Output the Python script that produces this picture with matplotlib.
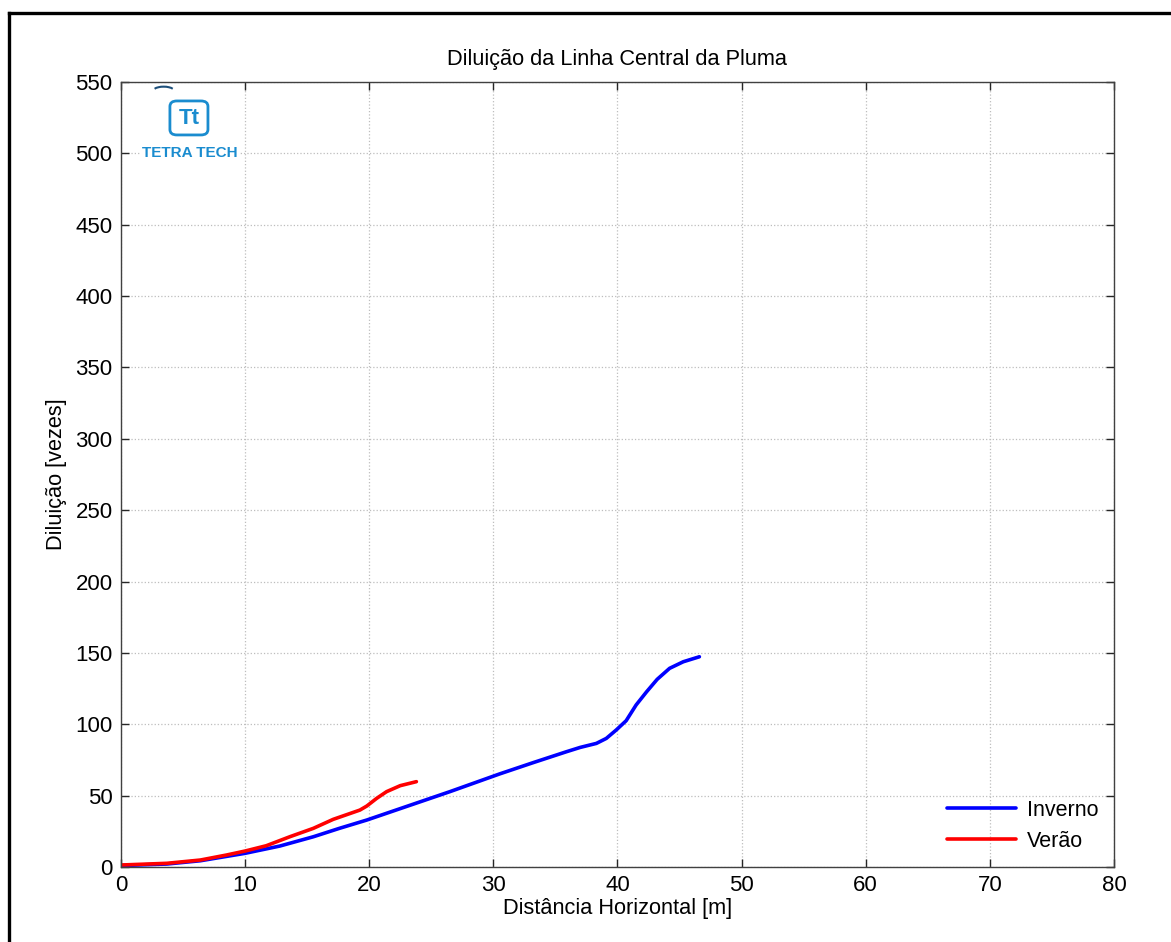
import matplotlib
matplotlib.use("Agg")
import matplotlib.pyplot as plt
from matplotlib.lines import Line2D
from matplotlib.patches import FancyBboxPatch, Arc
import numpy as np

plt.rcParams['font.family'] = ['Liberation Sans', 'DejaVu Sans']

# centreline dilution, winter run
inverno_x = [0.0, 3.7, 6.4, 10.0, 12.8, 15.5, 17.6, 19.8, 26.5, 30.5, 33.2,
             35.9, 37.0, 38.3, 39.1, 39.9, 40.7, 41.5, 42.35, 43.2, 44.2,
             45.3, 46.6]
inverno_y = [1.0, 2.1, 4.4, 9.6, 14.7, 21.2, 27.1, 32.9, 52.8, 65.2, 73.1,
             80.8, 83.8, 86.6, 90.1, 96.0, 102.5, 113.5, 122.8, 131.5, 139.2,
             143.8, 147.3]

# centreline dilution, summer run
verao_x = [0.0, 3.7, 6.4, 8.5, 10.0, 11.7, 13.6, 15.5, 17.1, 19.25, 19.8,
           20.6, 21.4, 22.5, 23.8]
verao_y = [1.4, 2.6, 4.9, 8.4, 11.2, 14.9, 21.2, 27.1, 33.4, 39.9, 42.7,
           48.1, 52.8, 57.0, 59.8]

xticks = np.arange(0, 81, 10)
yticks = np.arange(0, 551, 50)

fig = plt.figure(figsize=(11.71, 9.42), dpi=100)
ax = fig.add_axes([0.1033, 0.0796, 0.848, 0.8334])

ax.plot(inverno_x, inverno_y, color='#0000ff', lw=2.6, label='Inverno',
        solid_joinstyle='round', solid_capstyle='round')
ax.plot(verao_x, verao_y, color='#ff0000', lw=2.6, label='Verão',
        solid_joinstyle='round', solid_capstyle='round')

ax.set_xlim(0, 80)
ax.set_ylim(0, 550)
ax.set_xticks(xticks)
ax.set_yticks(yticks)
ax.grid(True, linestyle=':', color='#bdbdbd', lw=0.9)
ax.tick_params(direction='in', top=True, right=True, length=6, width=1,
               labelsize=16, colors='#262626', labelcolor='black', pad=6)
for s in ax.spines.values():
    s.set_color('#404040')
    s.set_linewidth(1)

ax.set_title('Diluição da Linha Central da Pluma', fontsize=15.7, pad=12)
ax.set_xlabel('Distância Horizontal [m]', fontsize=15.7, labelpad=1)
ax.set_ylabel('Diluição [vezes]', fontsize=15.7, labelpad=6)

ax.legend(loc='lower right', frameon=False, fontsize=15.5, handlelength=3.2,
          handletextpad=0.5, labelspacing=0.45,
          bbox_to_anchor=(1.004, -0.005))

# logo in the upper left corner
logo_c = '#1a8ccf'
ax.add_patch(Arc((0.043, 0.988), 0.022, 0.012, theta1=20, theta2=160,
                 transform=ax.transAxes, color='#1d4f7a', lw=1.5))
box = FancyBboxPatch((0.0493, 0.9325), 0.0383, 0.0433,
                     boxstyle='round,pad=0.0,rounding_size=0.007',
                     transform=ax.transAxes, fc='white', ec=logo_c, lw=2)
ax.add_patch(box)
ax.text(0.0685, 0.953, 'Tt', transform=ax.transAxes, color=logo_c,
        fontsize=16, fontweight='bold', ha='center', va='center')
ax.text(0.0695, 0.909, 'TETRA TECH', transform=ax.transAxes, color=logo_c,
        fontsize=11, fontweight='bold', ha='center', va='center',
        bbox=dict(fc='white', ec='none', pad=1))

# frame along the top and left edge
fig.add_artist(Line2D([9 / 1171, 1], [1 - 13 / 942, 1 - 13 / 942],
                      transform=fig.transFigure, color='black', lw=2.4))
fig.add_artist(Line2D([9 / 1171, 9 / 1171], [0, 1 - 13 / 942],
                      transform=fig.transFigure, color='black', lw=2.4))

fig.savefig('out.png', dpi=100)
